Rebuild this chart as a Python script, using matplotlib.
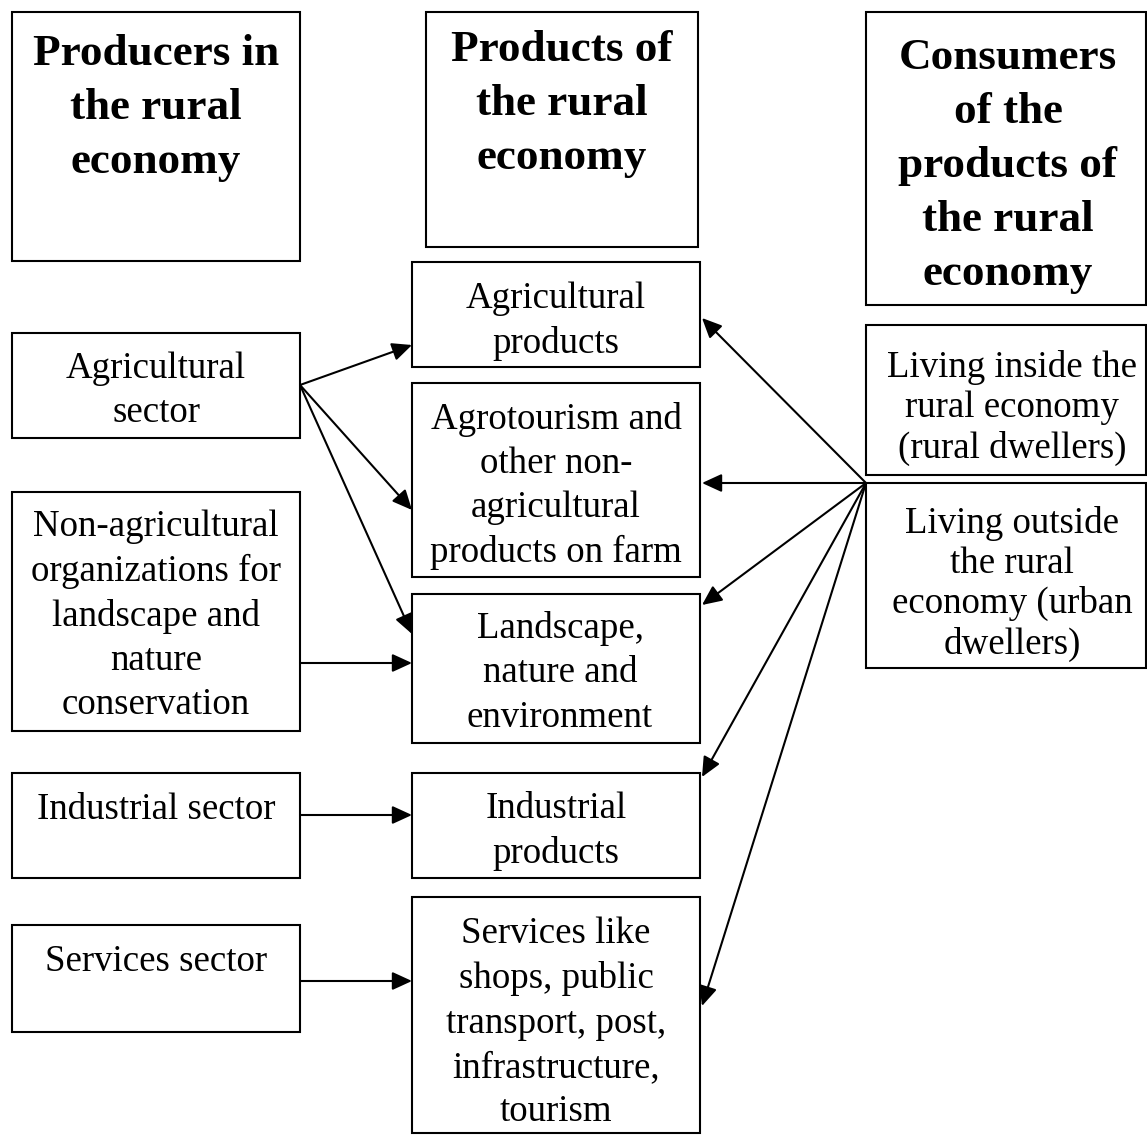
import matplotlib
matplotlib.use("Agg")
import matplotlib.pyplot as plt
from matplotlib.patches import Rectangle, FancyArrowPatch

# ---- text content ----
headers = [
    "Producers in\nthe rural\neconomy",
    "Products of\nthe rural\neconomy",
    "Consumers\nof the\nproducts of\nthe rural\neconomy",
]
producers = [
    "Agricultural\nsector",
    "Non-agricultural\norganizations for\nlandscape and\nnature\nconservation",
    "Industrial sector",
    "Services sector",
]
products = [
    "Agricultural\nproducts",
    "Agrotourism and\nother non-\nagricultural\nproducts on farm",
    "Landscape,\nnature and\nenvironment",
    "Industrial\nproducts",
    "Services like\nshops, public\ntransport, post,\ninfrastructure,\ntourism",
]
consumers = [
    "Living inside the\nrural economy\n(rural dwellers)",
    "Living outside\nthe rural\neconomy (urban\ndwellers)",
]
# links: producer index -> product index
producer_links = [(0, 0), (0, 1), (0, 2), (1, 2), (2, 3), (3, 4)]
# consumers (common point) -> product index
consumer_links = [0, 1, 2, 3, 4]

# ---- layout (pixel coordinates, y downward) ----
W, H = 1147, 1135
header_boxes = [(12, 12, 300, 261), (426, 12, 698, 247), (866, 12, 1146, 305)]
header_text = [(156, 108), (562, 104), (1008, 166)]
producer_boxes = [(12, 333, 300, 438), (12, 492, 300, 731),
                  (12, 773, 300, 878), (12, 925, 300, 1032)]
producer_text = [(156, 391), (156, 616), (156, 810), (156, 962)]
product_boxes = [(412, 262, 700, 367), (412, 383, 700, 577), (412, 594, 700, 743),
                 (412, 773, 700, 878), (412, 897, 700, 1133)]
product_text = [(556, 321), (556, 486), (560, 673), (556, 831), (556, 1023)]
consumer_boxes = [(866, 325, 1146, 475), (866, 483, 1146, 668)]
consumer_text = [(1012, 408), (1012, 584)]

producer_tail = [(300, 385), (300, 385), (300, 385), (300, 663), (300, 815), (300, 981)]
producer_head = [(412, 345), (412, 510), (412, 634), (412, 663), (412, 815), (412, 981)]
consumer_tail = (866, 483)
consumer_head = [(702, 318), (702, 483), (702, 605), (702, 777), (702, 1006)]

FONT = "Liberation Serif"
REG = 26.6
BOLD = 32.5

fig = plt.figure(figsize=(W / 100, H / 100), dpi=100)
ax = fig.add_axes([0, 0, 1, 1])
ax.set_xlim(0, W)
ax.set_ylim(H, 0)
ax.axis("off")


def box(b):
    x0, y0, x1, y1 = b
    ax.add_patch(Rectangle((x0, y0), x1 - x0, y1 - y0, fill=False,
                           edgecolor="black", lw=1.5, clip_on=False))


def label(txt, pos, size, weight="normal", ls=1.3):
    ax.text(pos[0], pos[1], txt, ha="center", va="center", multialignment="center",
            fontsize=size, fontweight=weight, family=FONT, linespacing=ls)


for b, t, p in zip(header_boxes, headers, header_text):
    box(b)
    label(t, p, BOLD, "bold", 1.45)
for b, t, p in zip(producer_boxes, producers, producer_text):
    box(b)
    label(t, p, REG, ls=1.36)
for b, t, p in zip(product_boxes, products, product_text):
    box(b)
    label(t, p, REG, ls=1.37)
for b, t, p in zip(consumer_boxes, consumers, consumer_text):
    box(b)
    label(t, p, REG, ls=1.2)


def arrow(a, b):
    ax.add_patch(FancyArrowPatch(a, b, arrowstyle="-|>,head_length=12,head_width=5.5",
                                 mutation_scale=1, shrinkA=0, shrinkB=0,
                                 color="black", lw=1.5))


for (src, dst), t, h in zip(producer_links, producer_tail, producer_head):
    arrow(t, h)
for dst, h in zip(consumer_links, consumer_head):
    arrow(consumer_tail, h)

fig.savefig("out.png", dpi=100, facecolor="white")
